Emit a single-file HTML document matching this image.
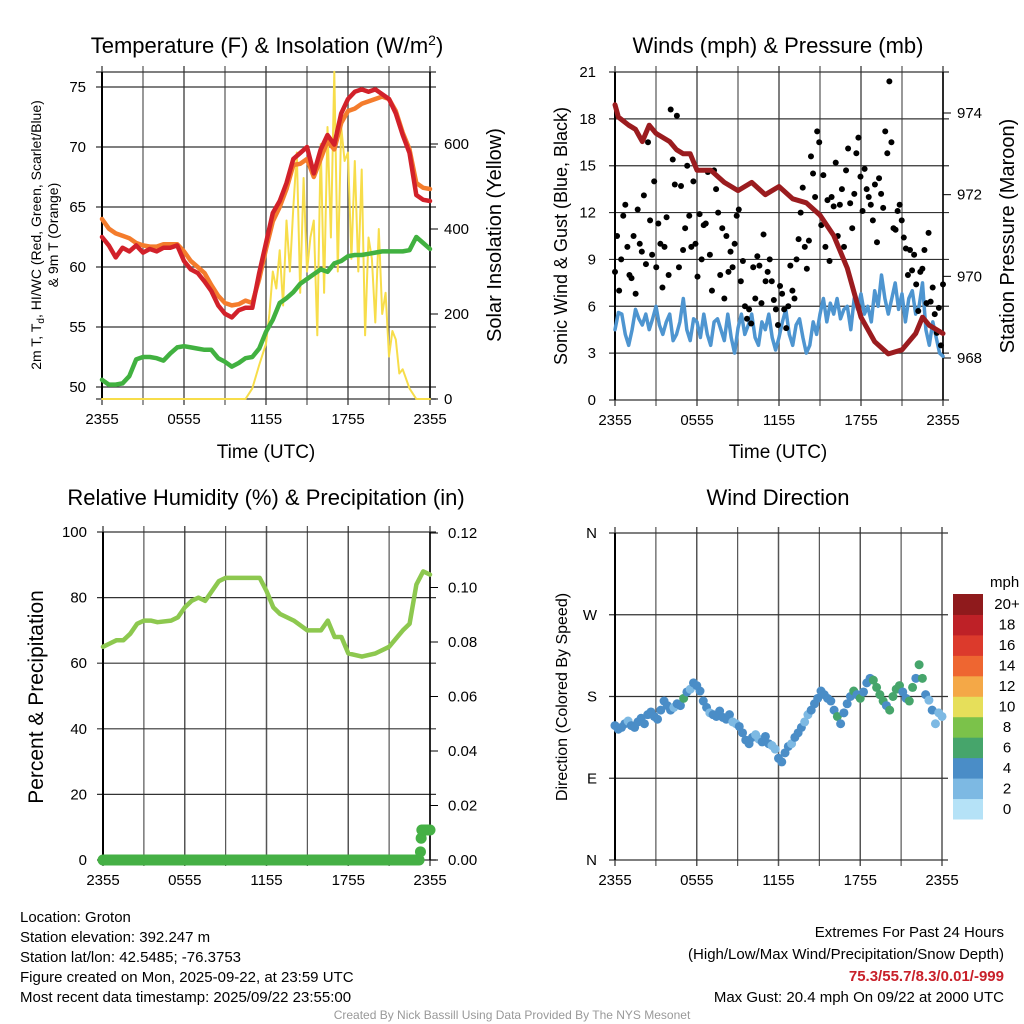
<!DOCTYPE html>
<html><head><meta charset="utf-8"><style>
html,body{margin:0;padding:0;background:#fff;}
svg{display:block;font-family:"Liberation Sans",sans-serif;}
</style></head><body>
<svg id="c" width="1024" height="1024" viewBox="0 0 1024 1024" xmlns="http://www.w3.org/2000/svg">
<g id="static">
<text x="267" y="53" font-size="22" text-anchor="middle">Temperature (F) &amp; Insolation (W/m<tspan dy="-8" font-size="14">2</tspan><tspan dy="8">)</tspan></text>
<text x="778" y="53" font-size="22" text-anchor="middle">Winds (mph) &amp; Pressure (mb)</text>
<text x="266" y="505" font-size="22" text-anchor="middle">Relative Humidity (%) &amp; Precipitation (in)</text>
<text x="778" y="505" font-size="22" text-anchor="middle">Wind Direction</text>
<text x="266" y="458" font-size="19" text-anchor="middle">Time (UTC)</text>
<text x="778" y="458" font-size="19" text-anchor="middle">Time (UTC)</text>
<text transform="translate(41,235) rotate(-90)" font-size="14" text-anchor="middle">2m T, T<tspan dy="3" font-size="10">d</tspan><tspan dy="-3">, HI/WC (Red, Green, Scarlet/Blue)</tspan></text>
<text transform="translate(58,235) rotate(-90)" font-size="14" text-anchor="middle">&amp; 9m T (Orange)</text>
<text transform="translate(501,235) rotate(-90)" font-size="20" text-anchor="middle">Solar Insolation (Yellow)</text>
<text transform="translate(567,236) rotate(-90)" font-size="18" text-anchor="middle">Sonic Wind &amp; Gust (Blue, Black)</text>
<text transform="translate(1014,236) rotate(-90)" font-size="20" text-anchor="middle">Station Pressure (Maroon)</text>
<text transform="translate(43,697) rotate(-90)" font-size="21" text-anchor="middle">Percent &amp; Precipitation</text>
<text transform="translate(567,697) rotate(-90)" font-size="16" text-anchor="middle">Direction (Colored By Speed)</text>
<text x="990" y="587" font-size="15" text-anchor="start">mph</text>
<g font-size="15">
<text x="20" y="922">Location: Groton</text>
<text x="20" y="942">Station elevation: 392.247 m</text>
<text x="20" y="962">Station lat/lon: 42.5485; -76.3753</text>
<text x="20" y="982">Figure created on Mon, 2025-09-22, at 23:59 UTC</text>
<text x="20" y="1002">Most recent data timestamp: 2025/09/22 23:55:00</text>
</g>
<g font-size="15" text-anchor="end">
<text x="1004" y="937">Extremes For Past 24 Hours</text>
<text x="1004" y="959">(High/Low/Max Wind/Precipitation/Snow Depth)</text>
<text x="1004" y="981" fill="#c8202a" font-weight="bold">75.3/55.7/8.3/0.01/-999</text>
<text x="1004" y="1002">Max Gust: 20.4 mph On 09/22 at 2000 UTC</text>
</g>
<text x="512" y="1019" font-size="12" fill="#999" text-anchor="middle">Created By Nick Bassill Using Data Provided By The NYS Mesonet</text>
</g>
</svg>
<script>
// ---------- data (hours since 2355 UTC) ----------
const xTickLabels = ["2355","0555","1155","1755","2355"];
const tempHours = [0,0.5,1,1.5,2,2.5,3,3.5,4,4.5,5,5.5,6,6.5,7,7.5,8,8.5,9,9.5,10,10.5,11,11.5,12,12.5,13,13.5,14,14.5,15,15.5,16,16.5,17,17.5,18,18.5,19,19.5,20,20.5,21,21.5,22,22.5,23,23.5,24];
const tempRed = [62.5,61.8,60.8,61.6,61.3,61.8,61.2,61.5,61.3,61.6,61.6,61.8,60.5,59.8,59.5,58.8,58.0,56.8,56.1,55.8,56.4,56.6,56.6,59.5,62.0,64.5,65.5,67.0,69.0,69.5,70.0,67.8,69.8,71.0,70.2,72.8,74.0,74.6,74.8,74.6,74.8,74.4,74.0,72.8,71.0,69.5,66.0,65.6,65.5];
const tempOrange = [64.0,63.2,62.8,62.6,62.4,62.0,61.8,61.7,61.7,61.9,61.9,61.9,61.3,60.5,60.0,59.5,58.5,57.6,57.0,56.8,56.9,57.2,57.0,59.0,61.5,63.8,65.0,66.5,68.5,68.6,69.0,67.5,69.0,70.5,69.8,72.0,73.0,73.2,73.6,73.8,74.0,74.2,74.0,73.0,71.2,69.8,67.0,66.6,66.5];
const tempGreen = [50.6,50.2,50.2,50.3,50.9,52.3,52.5,52.5,52.4,52.2,52.8,53.3,53.4,53.3,53.2,53.1,53.1,52.4,52.1,51.7,52.0,52.4,52.5,53.2,54.6,55.6,57.0,57.4,57.9,58.6,59.0,59.4,59.8,59.6,60.3,60.5,60.9,61.0,61.0,61.1,61.2,61.3,61.3,61.3,61.3,61.4,62.5,62.0,61.5];
const solarHours = [0,10.5,11,11.5,12,12.25,12.5,12.75,13,13.25,13.5,13.75,14,14.25,14.5,14.75,15,15.25,15.5,15.75,16,16.25,16.5,16.75,17,17.25,17.5,17.75,18,18.25,18.5,18.75,19,19.25,19.5,19.75,20,20.25,20.5,20.75,21,21.25,21.5,21.75,22,22.5,23,24];
const solarValues = [0,0,25,80,130,200,300,260,350,220,420,300,450,580,250,520,300,380,420,150,600,250,640,380,770,300,640,560,580,330,560,300,540,150,380,330,180,400,200,250,100,160,140,60,70,25,0,0];
const windSpeed = [4.5,5.6,5.5,4.2,3.5,4.5,5.8,5.2,4.8,5.5,4.5,5.2,6.0,4.8,4.2,5.0,5.5,3.8,4.2,5.0,6.5,4.5,3.8,5.2,5.0,4.0,5.5,4.2,3.5,5.0,5.2,4.5,3.8,5.5,4.0,3.0,4.6,5.5,4.2,4.8,5.5,4.0,3.5,5.0,4.5,5.5,4.0,3.2,4.0,5.0,5.8,4.2,3.5,4.8,5.2,4.0,3.0,3.5,5.0,4.2,5.5,6.5,5.0,6.2,5.5,6.5,5.2,5.8,6.0,4.5,6.5,5.8,6.8,5.5,6.0,5.0,7.0,6.0,8.0,6.5,5.5,6.5,7.5,5.8,6.8,5.0,6.5,7.0,5.5,6.0,7.5,4.5,3.5,5.0,4.0,3.0,2.8];
const gustValues = [8.2,10.5,7,9,11.8,12.5,9.8,8,7.8,10.5,6.8,12.2,10,9.5,13.1,8.7,16.5,11.5,9.3,14,8.5,11.3,10,7.2,9.8,11.7,8,18.6,15.4,13.8,18.2,8.5,13.7,9.6,11,15,11.8,9.8,14,10,7.9,11.9,9.0,11.2,11.3,14.6,9.3,7,14.7,13.5,12,8,11,6.5,10.5,8.2,9.5,8.5,10,11.8,12.2,7.6,8.9,6,5.2,5.8,4.9,8.5,6.5,9.2,8.6,6.2,10.6,7.6,8.2,9,7.6,6.4,5.8,4.8,7.3,6.8,5.8,4.6,6,8.6,7,6.5,9,10.3,12,13.6,9.8,8.4,10.2,15.6,14.5,13,17.2,16.5,11.2,14.4,9.8,12.8,8.9,13,12.4,15.2,10.5,12.5,13.5,9.8,14.7,16.1,12.6,11,13.2,15.8,16.8,14.3,12.1,14.8,13.5,13,12.5,11.5,13.8,10.1,14.2,13.2,12.3,17.2,15.8,20.4,16.5,11,10.9,12.1,12.5,11.5,10.4,9.7,8,9.6,8.3,9.3,7.4,5.7,8.2,8.4,9.6,6.2,10.7,6.3,7.2,5.5,4.3,5.9,3.5,7.4];
const pressHours = [0,0.25,1,1.5,2,2.5,3,4,4.5,5,5.5,6,7,8,9,10,11,12,13,14,15,16,17,18,19,20,21,22,22.5,23,24];
const pressValues = [974.2,973.9,973.7,973.6,973.3,973.7,973.5,973.3,973.1,973.0,973.0,972.6,972.6,972.3,972.1,972.3,972.0,972.2,971.9,971.8,971.5,971.0,970.2,969.0,968.4,968.1,968.2,968.6,969.0,968.8,968.6];
const rhHours = [0,0.5,1,1.5,2,2.5,3,3.5,4,5,5.5,6,6.5,7,7.5,8,8.5,9,10,11,11.5,12,12.5,13,14,15,16,16.5,17,17.5,18,19,20,21,22,22.5,23,23.5,24];
const rhValues = [65,66,67,67,69,72,73,73,72.5,73,74,77,79,80,79,82,85,86,86,86,86,82,77,75,73,70,70,73,68,68,63,62,63,65,70,72,84,88,87];
const precipHours = [23.3,23.35,23.4,23.5,23.6,23.7,23.8,23.9,24];
const precipValues = [0.003,0.008,0.011,0.011,0.011,0.011,0.011,0.011,0.011];
const dirValues = [148,144,146,150,153,148,146,152,156,150,160,163,158,155,165,175,170,165,168,172,170,178,185,188,195,192,186,175,168,162,160,158,164,157,155,160,152,150,147,140,132,128,135,138,133,130,136,128,126,122,112,108,118,125,128,135,140,146,152,160,165,172,178,186,182,178,175,165,158,150,162,172,180,186,182,178,185,195,200,198,190,182,175,170,165,180,188,192,185,178,175,190,200,215,200,182,176,165,150,162,158];
const speedBins = ["0","2","4","6","8","10","12","14","16","18","20+"];
const speedColors = ["#b5e2f7","#7db9e3","#4a8dc7","#46a56b","#7bc24a","#e6df5a","#f4a847","#ee6631","#dc3a2c","#be2127","#8f1a1c"];

// ---------- helpers ----------
const NS="http://www.w3.org/2000/svg";
const svg=document.getElementById('c');
function mk(tag,attrs,parent){const e=document.createElementNS(NS,tag);for(const k in attrs)e.setAttribute(k,attrs[k]);(parent||svg).appendChild(e);return e;}
function interp(hs,vs,h){for(let i=1;i<hs.length;i++){if(h<=hs[i]){const t=(h-hs[i-1])/(hs[i]-hs[i-1]);return vs[i-1]+t*(vs[i]-vs[i-1]);}}return vs[vs.length-1];}
function pathD(xs,ys){return xs.map((x,i)=>(i?'L':'M')+x.toFixed(1)+','+ys[i].toFixed(1)).join('');}

const P1={x0:102,x1:430,y0:72,y1:399};
const x1f=h=>P1.x0+h/24*(P1.x1-P1.x0);
const yT=v=>387-(v-50)*(300/25);
const yS=v=>399-v*(255/600);
const P2={x0:615,x1:943,y0:72,y1:400};
const x2f=h=>P2.x0+h/24*(P2.x1-P2.x0);
const yW=v=>400-v*(328/21);
const yP=v=>113+(974-v)*(245/6);
const P3={x0:103,x1:430,y0:532,y1:860};
const x3f=h=>P3.x0+h/24*(P3.x1-P3.x0);
const yR=v=>860-v*3.28;
const yPr=v=>860-v/0.12*327;
const P4={x0:615,x1:942,y0:533,y1:860};
const x4f=h=>P4.x0+h/24*(P4.x1-P4.x0);
const yD=v=>860-v/360*327;

function grid(P,xf,hLines,name){
  const g=mk('g',{});
  
  
  for(let k=0;k<=8;k++){const x=xf(k*3);mk('line',{x1:x,x2:x,y1:P.y0-6,y2:P.y1+6,stroke:'#555','stroke-width':k%2?1.2:1.5},g);}
  hLines.forEach(y=>mk('line',{x1:P.x0-6,x2:P.x1+6,y1:y,y2:y,stroke:'#333','stroke-width':1.2},g));
  mk('line',{x1:P.x0,x2:P.x0,y1:P.y0,y2:P.y1,stroke:'#000','stroke-width':2},g);
  xTickLabels.forEach((t,i)=>{const e=mk('text',{x:xf(i*6),y:P.y1+25,'font-size':15,'text-anchor':'middle'},g);e.textContent=t;});
}
function ylabels(vals,yf,x,anchor,name,fmt){
  const g=mk('g',{'font-size':15,'text-anchor':anchor});
  
  
  vals.forEach(v=>{const e=mk('text',{x:x,y:yf(v)+5},g);e.textContent=fmt?fmt(v):v;});
}
function line(xs,ys,color,w,name){
  const e=mk('path',{d:pathD(xs,ys),fill:'none',stroke:color,'stroke-width':w,'stroke-linejoin':'round','stroke-linecap':'round'});
  
  
}

// ---------- Panel 1 ----------
grid(P1,x1f,[75,70,65,60,55,50].map(yT).concat([P1.y0,P1.y1]),'temp');
mk('line',{x1:P1.x1,x2:P1.x1,y1:P1.y0,y2:P1.y1,stroke:'#000','stroke-width':1.5});
ylabels([50,55,60,65,70,75],yT,86,'end','temp-y-ticks');
ylabels([0,200,400,600],yS,444,'start','solar-y-ticks');
[0,200,400,600].forEach(v=>mk('line',{x1:P1.x1,x2:P1.x1+8,y1:yS(v),y2:yS(v),stroke:'#000'}));
line(solarHours.map(x1f),solarValues.map(yS),'#f7dd4a',2,'solar-line');
line(tempHours.map(x1f),tempGreen.map(yT),'#41b140',4.5,'dewpoint-line');
line(tempHours.map(x1f),tempOrange.map(yT),'#f47c2c',4.5,'temp-9m-line');
line(tempHours.map(x1f),tempRed.map(yT),'#d2212a',4.5,'temp-2m-line');

// ---------- Panel 2 ----------
grid(P2,x2f,[0,3,6,9,12,15,18,21].map(yW),'wind');
mk('line',{x1:P2.x1,x2:P2.x1,y1:P2.y0,y2:P2.y1,stroke:'#000','stroke-width':1.5});
ylabels([0,3,6,9,12,15,18,21],yW,596,'end','wind-y-ticks');
ylabels([968,970,972,974],yP,957,'start','pressure-y-ticks');
[968,970,972,974].forEach(v=>mk('line',{x1:P2.x1,x2:P2.x1+8,y1:yP(v),y2:yP(v),stroke:'#000'}));
line(windSpeed.map((v,i)=>x2f(i/(windSpeed.length-1)*24)),windSpeed.map(yW),'#4e95d0',3.5,'wind-speed-line');
const gg=mk('g',{fill:'#000'});


gustValues.forEach((v,i)=>{const c=mk('circle',{cx:x2f(i/(gustValues.length-1)*24),cy:yW(v),r:3},gg);

});
line(pressHours.map(x2f),pressValues.map(yP),'#9b1c1f',5,'pressure-line');

// ---------- Panel 3 ----------
grid(P3,x3f,[0,20,40,60,80,100].map(yR),'rh');
mk('line',{x1:P3.x1,x2:P3.x1,y1:P3.y0,y2:P3.y1,stroke:'#000','stroke-width':1.5});
ylabels([0,20,40,60,80,100],yR,87,'end','rh-y-ticks');
ylabels([0,0.02,0.04,0.06,0.08,0.1,0.12],yPr,448,'start','precip-y-ticks',v=>v.toFixed(2));
[0,0.02,0.04,0.06,0.08,0.1,0.12].forEach(v=>mk('line',{x1:P3.x1,x2:P3.x1+8,y1:yPr(v),y2:yPr(v),stroke:'#000'}));
line(rhHours.map(x3f),rhValues.map(yR),'#8dc84f',4.5,'rh-line');
line([0,23.2].map(x3f),[0,0].map(yPr),'#45b045',11,'precip-zero-line');
const pg=mk('g',{fill:'#45b045'});


precipHours.forEach((h,i)=>{const c=mk('circle',{cx:x3f(h),cy:yPr(precipValues[i]),r:5.5},pg);

});

// ---------- Panel 4 ----------
grid(P4,x4f,[0,90,180,270,360].map(yD),'dir');
const dl=mk('g',{'font-size':15,'text-anchor':'end'});


['N','E','S','W','N'].forEach((t,i)=>{const e=mk('text',{x:597,y:yD(i*90)+5},dl);e.textContent=t;});
const dg=mk('g',{});


const wsHours=windSpeed.map((_,k)=>k/(windSpeed.length-1)*24);
dirValues.forEach((v,i)=>{const h=i/(dirValues.length-1)*24;const sp=interp(wsHours,windSpeed,h);
const bin=Math.min(10,Math.max(0,Math.floor(sp/2)));
const c=mk('circle',{cx:x4f(h),cy:yD(v),r:4.5,fill:speedColors[bin]},dg);

});
const cb=mk('g',{});


const bh=(819-594)/11;
speedBins.forEach((lab,i)=>{const y=819-(i+1)*bh;
const r=mk('rect',{x:953,y:y,width:30,height:bh+0.5,fill:speedColors[i]},cb);


const t=mk('text',{x:1007,y:y+bh/2+5,'font-size':15,'text-anchor':'middle'},cb);t.textContent=lab;});
</script>
</body></html>
